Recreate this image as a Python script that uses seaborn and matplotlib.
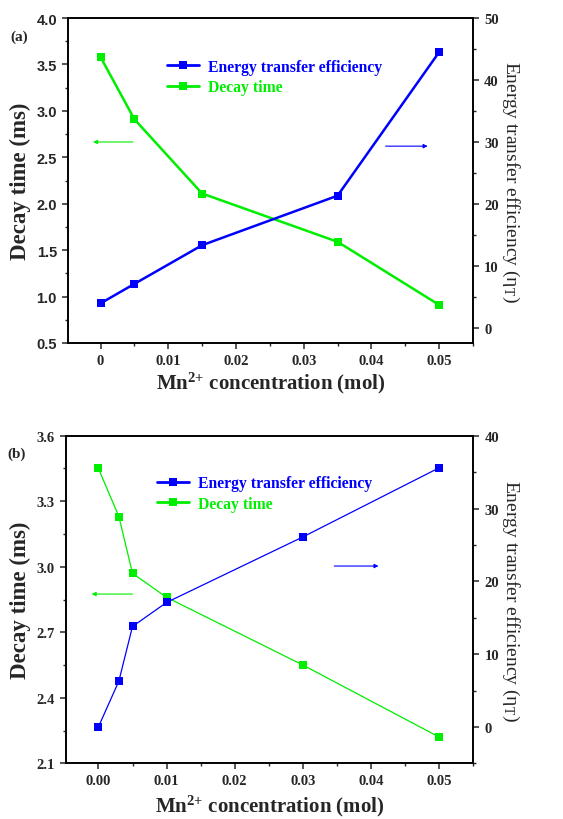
import matplotlib
matplotlib.use("Agg")
import matplotlib.pyplot as plt
import seaborn as sns
import pandas as pd
from matplotlib.lines import Line2D
from matplotlib.ticker import MultipleLocator, FormatStrFormatter, FuncFormatter

# ---------------- data ----------------
x_a = [0, 0.005, 0.015, 0.035, 0.05]
decay_a = [3.58, 2.91, 2.11, 1.59, 0.91]
eff_a = [3.9, 7.05, 13.3, 21.3, 44.5]

x_b = [0, 0.003, 0.005, 0.01, 0.03, 0.05]
decay_b = [3.45, 3.23, 2.97, 2.86, 2.55, 2.22]
eff_b = [0.0, 6.3, 13.8, 17.1, 26.1, 35.6]

BLUE = "#0000ff"
GREEN = "#00ee00"

sns.set_style("ticks")
plt.rcParams["font.family"] = ["Liberation Serif", "DejaVu Serif"]
plt.rcParams["mathtext.fontset"] = "custom"
plt.rcParams["mathtext.rm"] = "Liberation Serif"
plt.rcParams["mathtext.it"] = "Liberation Serif"
plt.rcParams["mathtext.bf"] = "Liberation Serif:bold"
plt.rcParams["mathtext.default"] = "bf"
plt.rcParams["axes.linewidth"] = 1.2

fig = plt.figure(figsize=(5.63, 8.2), dpi=100)
ax_a = fig.add_axes([0.1208, 0.5805, 0.7194, 0.3963])
ax_b = fig.add_axes([0.1167, 0.0679, 0.724, 0.3995])

def style_axes(ax, ax2):
    for a in (ax, ax2):
        for s in a.spines.values():
            s.set_linewidth(1.2)
            s.set_color("black")
            s.set_visible(True)
    ax.tick_params(axis="both", which="major", direction="out", length=4.5, width=1.1,
                   top=False, right=False)
    ax.tick_params(axis="both", which="minor", direction="out", length=2.5, width=1.0,
                   top=False, right=False)
    ax2.tick_params(axis="y", which="major", direction="out", length=4.5, width=1.1)
    ax2.tick_params(axis="y", which="minor", direction="out", length=2.5, width=1.0)

def panel(ax, x, decay, eff, lw, ms, ylim_l, ylim_r, lmaj, rmaj, label, legend_xy,
          left_tick_font, xfmt, arr_g, arr_b, xlabelpad):
    df_d = pd.DataFrame({"x": x, "y": decay})
    df_e = pd.DataFrame({"x": x, "y": eff})
    ax2 = ax.twinx()
    sns.lineplot(data=df_d, x="x", y="y", ax=ax, color=GREEN, marker="s", markersize=ms,
                 markeredgewidth=0, linewidth=lw, zorder=3)
    sns.lineplot(data=df_e, x="x", y="y", ax=ax2, color=BLUE, marker="s", markersize=ms,
                 markeredgewidth=0, linewidth=lw, zorder=3)
    ax.set_xlim(-0.0048, 0.055)
    ax.set_ylim(*ylim_l)
    ax2.set_ylim(*ylim_r)
    ax.yaxis.set_major_locator(MultipleLocator(lmaj))
    ax.yaxis.set_minor_locator(MultipleLocator(lmaj / 2))
    ax2.yaxis.set_major_locator(MultipleLocator(rmaj))
    ax2.yaxis.set_minor_locator(MultipleLocator(rmaj / 2))
    ax.xaxis.set_major_locator(MultipleLocator(0.01))
    ax.xaxis.set_minor_locator(MultipleLocator(0.005))
    ax.xaxis.set_major_formatter(xfmt)
    style_axes(ax, ax2)

    ax.set_xlabel(r"Mn$^{2{+}}$ concentration (mol)", fontsize=15, fontweight="bold",
                  labelpad=xlabelpad)
    ax.set_ylabel("Decay time (ms)", fontsize=16.5, fontweight="bold", labelpad=4)
    ax2.set_ylabel(r"Energy transfer efficiency ($\mathrm{\eta_T}$)", fontsize=14,
                   rotation=270, labelpad=16)

    for t in ax.get_yticklabels():
        t.set_fontproperties(left_tick_font)
    for t in ax.get_xticklabels():
        t.set_fontsize(10.5)
        t.set_fontweight("bold")
    for t in ax2.get_yticklabels():
        t.set_fontsize(10.5)
        t.set_fontweight("bold")

    ax.annotate("", xy=(arr_g[1], arr_g[2]), xytext=(arr_g[0], arr_g[2]),
                arrowprops=dict(arrowstyle="-|>", color=GREEN, lw=0.8,
                                mutation_scale=6, shrinkA=0, shrinkB=0))
    ax2.annotate("", xy=(arr_b[1], arr_b[2]), xytext=(arr_b[0], arr_b[2]),
                 arrowprops=dict(arrowstyle="-|>", color=BLUE, lw=0.8,
                                 mutation_scale=6, shrinkA=0, shrinkB=0))

    hb = Line2D([], [], color=BLUE, marker="s", markersize=6, markeredgewidth=0, linewidth=2)
    hg = Line2D([], [], color=GREEN, marker="s", markersize=6, markeredgewidth=0, linewidth=2)
    leg = ax2.legend([hb, hg], ["Energy transfer efficiency", "Decay time"],
                     loc="upper left", bbox_to_anchor=legend_xy, frameon=False,
                     prop={"family": "Liberation Serif", "weight": "bold", "size": 11.3},
                     handlelength=2.0, handletextpad=0.6, labelspacing=0.3,
                     borderaxespad=0, borderpad=0)
    leg.get_texts()[0].set_color(BLUE)
    leg.get_texts()[1].set_color(GREEN)

    ax.text(-0.12, 0.945, label, transform=ax.transAxes, fontsize=11, fontweight="bold",
            ha="center", va="center")
    return ax2

sans_bold = matplotlib.font_manager.FontProperties(family="Liberation Sans", weight="bold", size=10.5)
serif_bold = matplotlib.font_manager.FontProperties(family="Liberation Serif", weight="bold", size=10.5)

fmt_a = FuncFormatter(lambda v, p: "0" if abs(v) < 1e-9 else f"{v:.2f}")
fmt_b = FormatStrFormatter("%.2f")

panel(ax_a, x_a, decay_a, eff_a, lw=1.8, ms=6, ylim_l=(0.5, 4.0), ylim_r=(-2.5, 50),
      lmaj=0.5, rmaj=10, label="(a)", legend_xy=(0.245, 0.875), left_tick_font=sans_bold,
      xfmt=fmt_a, arr_g=(0.0048, -0.0011, 2.665), arr_b=(0.0421, 0.0483, 29.3),
      xlabelpad=2)
panel(ax_b, x_b, decay_b, eff_b, lw=0.9, ms=5.5, ylim_l=(2.1, 3.6), ylim_r=(-5, 40),
      lmaj=0.3, rmaj=10, label="(b)", legend_xy=(0.225, 0.88), left_tick_font=serif_bold,
      xfmt=fmt_b, arr_g=(0.0050, -0.0010, 2.875), arr_b=(0.0346, 0.0411, 22.1),
      xlabelpad=4)

fig.savefig("out.png", dpi=100)
